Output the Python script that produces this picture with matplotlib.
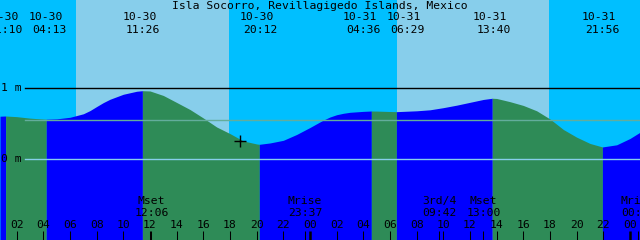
import matplotlib
matplotlib.use('Agg')
import matplotlib.pyplot as plt
import matplotlib.transforms as mtransforms

# ---------------- data ----------------
title = "Isla Socorro, Revillagigedo Islands, Mexico"

# hours since 10-30 00:00, tide level in metres
tide_hours = [0.75, 1, 1.17, 2, 3, 4, 4.22, 5, 6, 7, 7.5, 8, 8.5, 9, 10, 11, 11.43, 12,
              13, 14, 15, 16, 17, 18, 19, 20, 20.2, 21, 22, 23, 24, 25, 25.5, 26, 26.5,
              27, 28, 28.6, 29, 30, 30.48, 31, 32, 33, 34, 35, 36, 37, 37.67, 38, 39,
              40, 41, 42, 43, 44, 45, 45.93, 47, 48, 48.75]
tide_levels = [0.604, 0.606, 0.607, 0.598, 0.577, 0.564, 0.562, 0.567, 0.589, 0.638,
               0.683, 0.740, 0.795, 0.842, 0.912, 0.954, 0.962, 0.958, 0.895, 0.797,
               0.698, 0.579, 0.453, 0.360, 0.257, 0.215, 0.210, 0.229, 0.266, 0.348,
               0.446, 0.550, 0.593, 0.625, 0.645, 0.659, 0.672, 0.677, 0.676, 0.670,
               0.668, 0.672, 0.680, 0.694, 0.724, 0.759, 0.799, 0.839, 0.856, 0.853,
               0.808, 0.755, 0.680, 0.565, 0.418, 0.310, 0.222, 0.173, 0.203, 0.292,
               0.379]

extreme_hours = [1.17, 4.22, 11.43, 20.2, 28.6, 30.48, 37.67, 45.93]
extreme_dates = ["10-30", "10-30", "10-30", "10-30", "10-31", "10-31", "10-31", "10-31"]
extreme_times = ["01:10", "04:13", "11:26", "20:12", "04:36", "06:29", "13:40", "21:56"]

sun_hours = [6.45, 17.93, 30.5, 41.93]          # sunrise, sunset, sunrise, sunset

moon_hours = [12.1, 23.62, 33.7, 37.0, 48.6]
moon_names = ["Mset", "Mrise", "3rd/4", "Mset", "Mrise"]
moon_times = ["12:06", "23:37", "09:42", "13:00", "00:36"]

hour_ticks = list(range(2, 49, 2))
hour_labels = ["%02d" % (h % 24) for h in hour_ticks]
midnights = [24, 48]

level_lines = [0, 1]
level_labels = ["0 m", "1 m"]
mean_level = 0.547
now_hour, now_level = 18.75, 0.26

# ---------------- style ----------------
NIGHT = '#00BFFF'
DAY = '#87CEEB'
RISE = '#0000FF'
FALL = '#2E8B57'
FONT = dict(family='DejaVu Sans Mono', size=8.2, color='black')

fig = plt.figure(figsize=(6.4, 2.4), dpi=100)
ax = fig.add_axes([0, 0, 1, 1])
ax.set_xlim(0.75, 48.75)
ax.set_ylim(-1.132, 2.234)
ax.axis('off')


def ypx(p):
    return (159.3 - p) / 71.3


def shifted(dx=0, dy=0):
    return mtransforms.offset_copy(ax.transData, fig=fig, x=dx, y=dy, units='dots')


# sky
ax.axvspan(0.75, 48.75, color=NIGHT, zorder=0, lw=0)
for a, b in zip(sun_hours[0::2], sun_hours[1::2]):
    ax.axvspan(a, b, color=DAY, zorder=0.5, lw=0)

# tide fills, rising blue / falling green
bounds = [tide_hours[0]] + extreme_hours + [tide_hours[-1]]
bottom = -1.2
for a, b in zip(bounds[:-1], bounds[1:]):
    xs = [h for h in tide_hours if a <= h <= b]
    ys = [l for h, l in zip(tide_hours, tide_levels) if a <= h <= b]
    col = RISE if ys[-1] > ys[0] else FALL
    ax.fill_between(xs, ys, bottom, color=col, lw=0, zorder=1)

# level lines
x0 = 25 / 640
ax.axhline(1, xmin=x0, xmax=1, color='black', lw=1.0, zorder=2)
ax.axhline(0, xmin=x0, xmax=1, color='#87CEEB', lw=1.0, zorder=2)
ax.axhline(mean_level, xmin=x0, xmax=1, color='#63ad9c', lw=1.0, zorder=2)
for lv, lab in zip(level_lines, level_labels):
    ax.text(1 / 640, lv, lab, transform=ax.get_yaxis_transform(), ha='left',
            va='center', zorder=3, **FONT)

# now marker
ax.plot([now_hour], [now_level], marker='+', ms=9, mew=1.0, color='black', zorder=3)

# title
ax.text(24.74, ypx(6), title, ha='center', va='center', zorder=3, **FONT)

# tide event labels (with small nudges to avoid overlap, in pixels)
nudges = [-0.4, 2.8, 0.8, 0.7, -8.3, 10.6, 1.1, 0.4]
for h, d, t, n in zip(extreme_hours, extreme_dates, extreme_times, nudges):
    ax.text(h, ypx(17), d, ha='center', va='center', transform=shifted(n - 3.5),
            zorder=3, **FONT)
    ax.text(h, ypx(30), t, ha='center', va='center', transform=shifted(n),
            zorder=3, **FONT)

# hour ticks and labels
tick_top, tick_bot = ypx(231), ypx(241)
for h, lab in zip(hour_ticks, hour_labels):
    lw = 1.8 if h in midnights else 0.75
    ax.vlines(h, tick_bot, tick_top, color='black', lw=lw, zorder=3)
    ax.text(h, ypx(225.5), lab, ha='center', va='center', zorder=3, **FONT)

# moon events
for h, nm, t in zip(moon_hours, moon_names, moon_times):
    ax.vlines(h, tick_bot, tick_top, color='black', lw=0.75, zorder=3)
    ax.text(h, ypx(201.5), nm, ha='center', va='center', zorder=3, **FONT)
    ax.text(h, ypx(213.5), t, ha='center', va='center', zorder=3, **FONT)

fig.savefig('out.png', dpi=100)
